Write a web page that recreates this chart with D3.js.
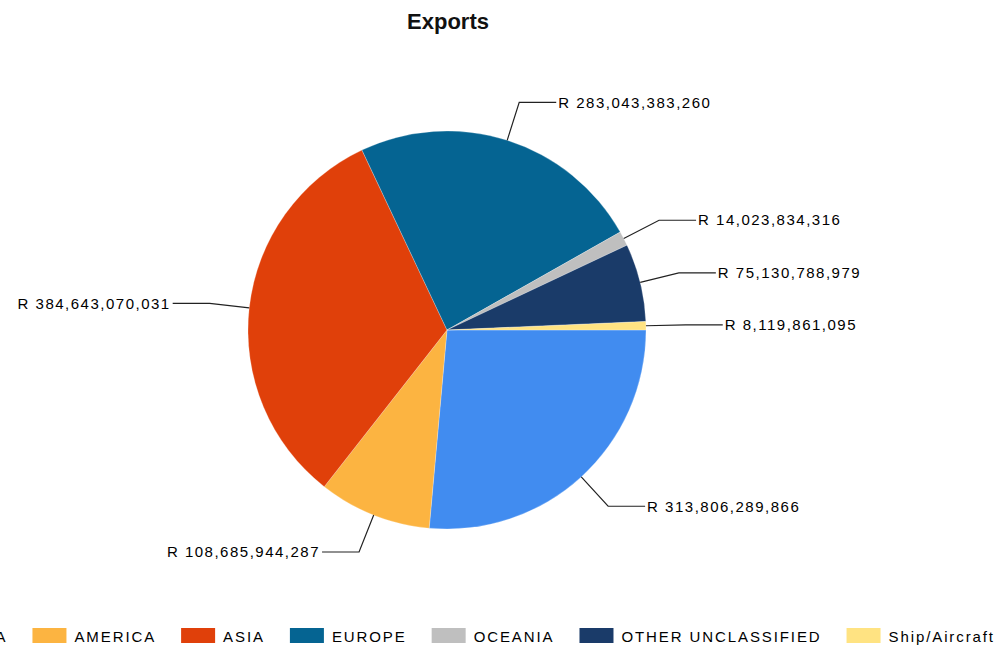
<!DOCTYPE html>
<html>
<head>
<meta charset="utf-8">
<script src="https://cdn.jsdelivr.net/npm/d3@7"></script>
<style>
  body { margin: 0; background: #fff; }
  text { font-family: "Liberation Sans", Arial, sans-serif; }
</style>
</head>
<body>
<div id="chart"></div>
<script>
var categories = ["AFRICA", "AMERICA", "ASIA", "EUROPE", "OCEANIA", "OTHER UNCLASSIFIED", "Ship/Aircraft"];
var exportValues = [313806289866, 108685944287, 384643070031, 283043383260, 14023834316, 75130788979, 8119861095];
var sliceColors = ["#418cf0", "#fcb441", "#e0400a", "#056492", "#bfbfbf", "#1a3b69", "#ffe382"];

function init()
{
    const width = 1000;
    const height = 646;
    var cx = 447, cy = 330;
    var radius = 199;

    var svg = d3.select("#chart")
        .append("svg")
        .attr("width", width)
        .attr("height", height);

    svg.append("text")
        .attr("x", cx + 1)
        .attr("y", 29)
        .attr("text-anchor", "middle")
        .style("font-size", "22px")
        .style("font-weight", "bold")
        .attr("fill", "#111")
        .text("Exports");

    var pie = d3.pie()
        .sort(null)
        .startAngle(Math.PI / 2)
        .endAngle(Math.PI / 2 + 2 * Math.PI);

    var arc = d3.arc().innerRadius(0).outerRadius(radius);
    var fmt = d3.format(",");

    var g = svg.append("g")
        .attr("transform", "translate(" + cx + "," + cy + ")");

    var arcs = g.selectAll("g.arc")
        .data(pie(exportValues))
        .enter()
        .append("g")
        .attr("class", "arc");

    arcs.append("path")
        .attr("fill", function(d, i) { return sliceColors[i]; })
        .attr("stroke", "#fff")
        .attr("stroke-opacity", 0.4)
        .attr("stroke-width", 0.6)
        .attr("d", arc);

    // leader lines + labels
    arcs.each(function(d) {
        var a = (d.startAngle + d.endAngle) / 2;
        var sx = Math.sin(a), sy = -Math.cos(a);
        var p0 = [sx * radius, sy * radius];
        var p1 = [sx * radius * 1.2, sy * radius * 1.2];
        var side = sx >= 0 ? 1 : -1;
        var p2 = [p1[0] + side * 37, p1[1]];
        var sel = d3.select(this);
        sel.append("polyline")
            .attr("points", [p0, p1, p2].map(function(p) { return p.join(","); }).join(" "))
            .attr("fill", "none")
            .attr("stroke", "#222")
            .attr("stroke-width", 1.2);
        sel.append("text")
            .attr("x", p2[0] + side * 2)
            .attr("y", p2[1])
            .attr("dy", "0.35em")
            .attr("text-anchor", side > 0 ? "start" : "end")
            .style("font-size", "15px")
            .style("letter-spacing", "1.5px")
            .attr("fill", "#000")
            .text("R " + fmt(d.value));
    });

    // legend
    var legend = svg.append("g");
    var items = legend.selectAll("g.item")
        .data(categories)
        .enter()
        .append("g")
        .attr("class", "item");

    items.append("rect")
        .attr("width", 34)
        .attr("height", 15)
        .attr("y", 628)
        .attr("fill", function(d, i) { return sliceColors[i]; });

    items.append("text")
        .attr("x", 42)
        .attr("y", 642)
        .style("font-size", "15px")
        .style("letter-spacing", "1.9px")
        .attr("fill", "#000")
        .text(function(d) { return d; });

    var x = 0;
    var offsets = [];
    items.each(function() {
        var w = d3.select(this).select("text").node().getComputedTextLength();
        offsets.push(x);
        x += 42 + w + 25;
    });
    var total = x - 25;
    var start = cx - total / 2;
    items.attr("transform", function(d, i) { return "translate(" + (start + offsets[i]) + ",0)"; });
}

init();
</script>
</body>
</html>
